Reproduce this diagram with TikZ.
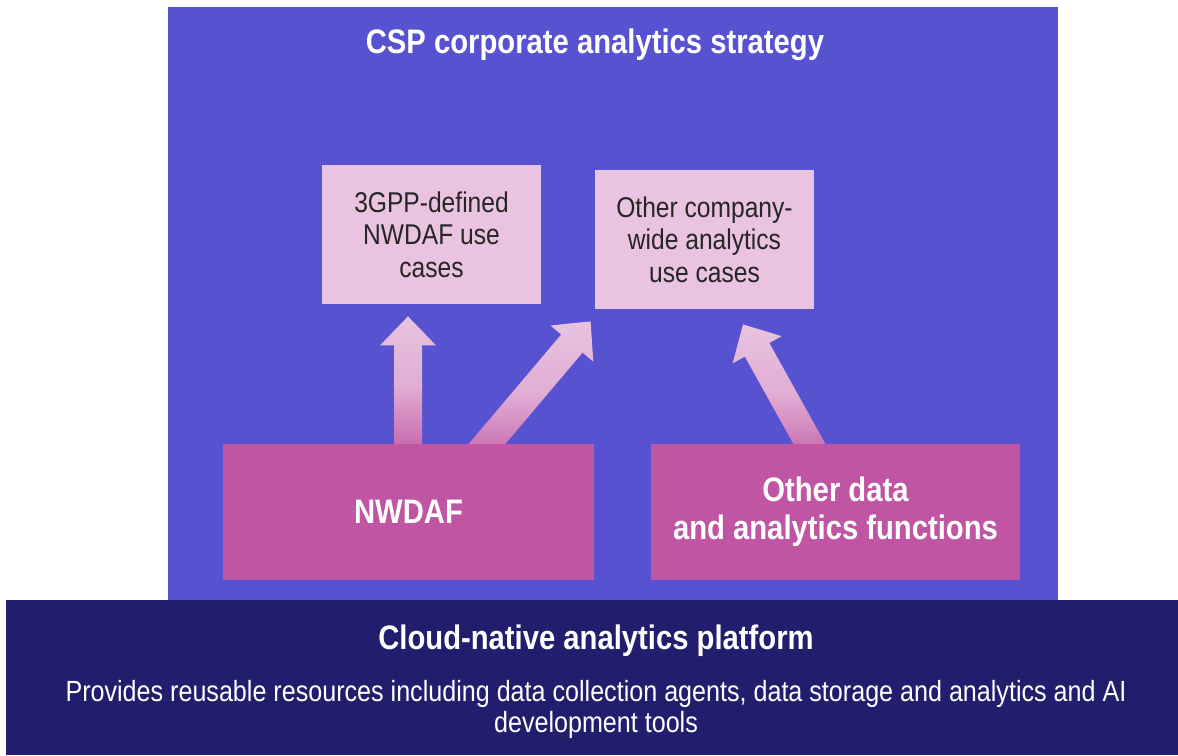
\documentclass[tikz,border=0pt]{standalone}
\usepackage{fontspec}
\setmainfont{Liberation Sans}[FakeStretch=0.86]
\usetikzlibrary{calc}
\definecolor{frameblue}{HTML}{5753D0}
\definecolor{darkband}{HTML}{221E6E}
\definecolor{pinkbox}{HTML}{E9C3E0}
\definecolor{magbox}{HTML}{BF55A3}
\pgfdeclarelayer{back}
\pgfdeclarelayer{mid}
\pgfsetlayers{back,mid,main}
\tikzset{
  pinkstyle/.style={fill=pinkbox, draw=none, minimum width=109.5pt, minimum height=69.5pt, align=center, text=black!85, font=\fontsize{14.3}{16.3}\selectfont, inner sep=0pt},
  magstyle/.style={fill=magbox, draw=none, minimum height=68pt, align=center, text=white, font=\bfseries\fontsize{17}{19}\selectfont, inner sep=0pt},
  arrowshade/.style={bottom color=magbox!90!pinkbox, top color=pinkbox, middle color=pinkbox!80!magbox},
}
\newcommand\fatarrow[2]{%
  \coordinate (hb) at ($(#2)!14.5pt!(#1)$);
  \shade[arrowshade]
    ($(#1)!7pt!90:(#2)$) -- ($(hb)!7pt!-90:(#1)$) -- ($(hb)!14pt!-90:(#1)$) -- (#2)
    -- ($(hb)!14pt!90:(#1)$) -- ($(hb)!7pt!90:(#1)$) -- ($(#1)!7pt!-90:(#2)$) -- cycle;
}
\begin{document}
\begin{tikzpicture}[x=0.5pt,y=-0.5pt]
\useasboundingbox (0,0) rectangle (1178,755);
\begin{pgfonlayer}{back}
\fill[white] (0,0) rectangle (1178,755);
\node[fill=frameblue, minimum width=445pt, minimum height=296.5pt, inner sep=0pt] (frame) at (613,303.5) {};
\node[fill=darkband, minimum width=586pt, minimum height=77.5pt, inner sep=0pt] (band) at (592,677.5) {};
\end{pgfonlayer}
\node[text=white, font=\bfseries\fontsize{17}{19}\selectfont] (title) at (595,45) {CSP corporate analytics strategy};
\node[pinkstyle] (uc1) at (431.5,234.5) {3GPP-defined\\NWDAF use\\cases};
\node[pinkstyle] (uc2) at (704.5,239.5) {Other company-\\wide analytics\\use cases};
\node[magstyle, minimum width=185.5pt] (nwdaf) at (408.5,512) {NWDAF};
\node[magstyle, minimum width=184.5pt] (other) at (835.5,512) {Other data\\and analytics functions};
\node[text=white, font=\bfseries\fontsize{17}{19}\selectfont] (ptitle) at (596,641) {Cloud-native analytics platform};
\node[text=white, align=center, font=\fontsize{14.6}{15.5}\selectfont] (pdesc) at (596,709) {Provides reusable resources including data collection agents, data storage and analytics and AI\\development tools};
% arrows
\begin{pgfonlayer}{mid}
\coordinate (t1) at ($(uc1.south)+(-23.5,12)$);
\coordinate (s1b) at ($(nwdaf.north)+(0,12)$);
\coordinate (s1) at (s1b -| t1);
\fatarrow{s1}{t1}
\coordinate (s2) at ($(nwdaf.north)+(67,14)$);
\coordinate (t2) at ($(uc2.south west)+(-4,12)$);
\fatarrow{s2}{t2}
\coordinate (s3) at ($(other.north)+(-18.5,14)$);
\coordinate (t3) at ($(uc2.south)+(38.5,15)$);
\fatarrow{s3}{t3}
\end{pgfonlayer}
\end{tikzpicture}
\end{document}
